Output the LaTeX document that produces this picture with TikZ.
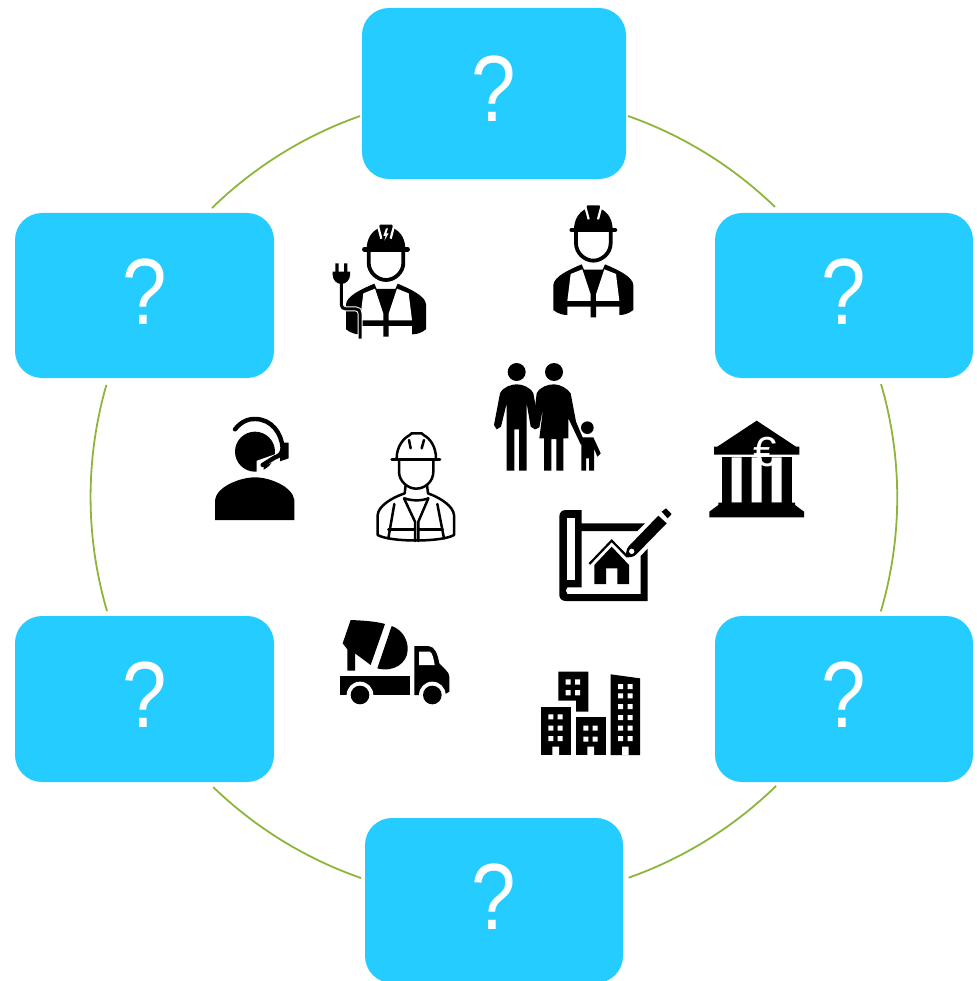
\documentclass[tikz,border=0pt]{standalone}
\usepackage{fontspec}
\setmainfont{Liberation Sans}
\definecolor{boxblue}{HTML}{24CCFF}
\definecolor{ringgreen}{HTML}{8DB53A}
\newcommand{\qmark}{\raisebox{-28.5pt}[0pt][0pt]{\scalebox{0.85}[1]{?}}}
\tikzset{
  qbox/.style={fill=boxblue,text=white,rounded corners=27pt,inner sep=0pt,font=\fontsize{94}{94}\selectfont},
  ring/.style={draw=ringgreen,line width=1.8pt},
  zoomed/.style={x=0.33333pt,y=-0.33333pt},
  ink/.style={fill=black,draw=none},
  gap/.style={fill=white,draw=none},
  outl/.style={draw=black,line width=2.5pt,line join=round,line cap=round}
}
\newcommand{\workerfig}{%
  \fill[ink] (762,90) .. controls (762,60) and (775,38) .. (797,27) -- (802,16) -- (838,16) -- (843,27) .. controls (865,38) and (878,60) .. (878,90) -- cycle;
  \draw[black,line width=4.5pt,line cap=round] (755,90) -- (885,90);
  \draw[white,line width=2.2pt] (796,20) -- (806,58) (844,20) -- (834,58);
  \draw[black,line width=3.8pt] (768,95) -- (768,130) .. controls (768,160) and (795,182) .. (820,182) .. controls (845,182) and (872,160) .. (872,130) -- (872,95);
  \fill[ink] (700,330) -- (700,255) .. controls (702,230) and (745,210) .. (785,193) -- (792,209) -- (848,209) -- (855,193) .. controls (895,210) and (938,230) .. (940,255) -- (940,330) .. controls (925,342) and (910,345) .. (898,345) -- (898,320) -- (828,320) -- (828,352) -- (812,352) -- (812,320) -- (742,320) -- (742,345) .. controls (730,345) and (715,342) .. (700,330) -- cycle;
  \fill[gap] (752,222) -- (787,208) -- (812,283) -- (812,303) -- (742,303) -- cycle;
  \fill[gap] (888,222) -- (853,208) -- (828,283) -- (828,303) -- (898,303) -- cycle;
}
\begin{document}
\begin{tikzpicture}[x=1pt,y=-1pt]
\useasboundingbox (0,0) rectangle (976,981);
% ring segments
\coordinate (ra) at (628,116);
\coordinate (rb) at (881,384);
\coordinate (rc) at (776,786);
\coordinate (rd) at (361,878);
\coordinate (re) at (107,611);
\coordinate (rf) at (212,208);
\draw[ring] (ra) arc[start angle=-70.6,end angle=-45.9,radius=404];
\draw[ring] (rb) arc[start angle=-16.3,end angle=16.4,radius=404];
\draw[ring] (rc) arc[start angle=45.7,end angle=70.5,radius=404];
\draw[ring] (rd) arc[start angle=109.2,end angle=134,radius=404];
\draw[ring] (re) arc[start angle=163.6,end angle=196.1,radius=404];
\draw[ring] (rf) arc[start angle=225.7,end angle=250.6,radius=404];
% boxes
\node[qbox,minimum width=264pt,minimum height=171pt] (top) at (494,93.5) {\qmark};
\node[qbox,minimum width=259pt,minimum height=165pt] (tl) at (144.5,295.5) {\qmark};
\node[qbox,minimum width=258pt,minimum height=165pt] (tr) at (844,295.5) {\qmark};
\node[qbox,minimum width=259pt,minimum height=166pt] (bl) at (144.5,699) {\qmark};
\node[qbox,minimum width=258pt,minimum height=166pt] (br) at (844,699) {\qmark};
\node[qbox,minimum width=258pt,minimum height=165pt] (bot) at (494,900.5) {\qmark};
% hard-hat worker, right
\begin{scope}[shift={(320,200)},zoomed]
  \workerfig
\end{scope}
% electrician
\begin{scope}[shift={(112.67,219.33)},zoomed]
  \workerfig
  \fill[gap] (820,27) -- (812,50) -- (819,50) -- (815,64) -- (828,42) -- (821,42) -- (826,27) -- cycle;
  \draw[white,line width=5pt,line join=round] (686,190) -- (686,257) .. controls (686,264) and (692,269) .. (700,269) -- (730,269) .. controls (738,269) and (742,274) .. (742,282) -- (742,362);
  \draw[black,line width=3pt,line join=round] (686,190) -- (686,257) .. controls (686,264) and (692,269) .. (700,269) -- (730,269) .. controls (738,269) and (742,274) .. (742,282) -- (742,358);
  \fill[ink] (660,157) -- (712,157) -- (712,167) .. controls (712,182) and (700,194) .. (686,194) .. controls (672,194) and (660,182) .. (660,167) -- cycle;
  \fill[ink] (668,132) rectangle (678,158) (694,132) rectangle (704,158);
\end{scope}
% headset person, outlined worker
\begin{scope}[shift={(200,350)},zoomed]
  \fill[ink] (165,305) circle[radius=60];
  \fill[ink] (45,510) -- (45,450) .. controls (50,410) and (120,382) .. (165,382) .. controls (210,382) and (278,410) .. (283,450) -- (283,510) -- cycle;
  \draw[white,line width=7pt] (248,300) .. controls (244,315) and (238,320) .. (225,324) -- (180,340) -- (180,372);
  \fill[ink] (248,278) -- (266,278) -- (266,325) -- (240,334) -- (240,300) -- cycle;
  \draw[black,line width=4.4pt,line cap=round] (105,238) .. controls (125,212) and (150,206) .. (165,207) .. controls (215,207) and (245,250) .. (248,295) .. controls (246,312) and (238,318) .. (225,322) -- (188,345);
  \begin{scope}[outl]
    \draw (575,328) -- (720,328);
    \draw (590,325) .. controls (590,290) and (610,265) .. (628,256) -- (635,250) -- (665,250) -- (672,256) .. controls (690,265) and (708,290) .. (708,325);
    \draw (627,270) -- (632,295) (672,270) -- (665,295);
    \draw (597,330) -- (597,365) .. controls (597,395) and (625,416) .. (648,416) .. controls (675,416) and (700,395) .. (700,365) -- (700,330);
    \draw (617,405) -- (614,430) (681,405) -- (684,430);
    \draw (614,445) .. controls (635,453) and (665,453) .. (685,445);
    \draw (614,430) .. controls (570,445) and (535,470) .. (533,495) -- (533,555) .. controls (570,577) and (725,577) .. (762,555) -- (762,495) .. controls (760,470) and (725,445) .. (684,430);
    \draw (583,462) -- (565,565) (712,462) -- (732,565);
    \draw (612,445) -- (645,515) -- (645,573) (685,445) -- (655,515) -- (655,573);
    \draw (565,538) -- (645,538) (655,538) -- (728,538);
  \end{scope}
\end{scope}
% family, bank, blueprint
\begin{scope}[shift={(480,350)},zoomed]
  \fill[ink] (110,66) circle[radius=27] (222,66) circle[radius=27] (322,233) circle[radius=19];
  \fill[ink] (60,130) .. controls (70,110) and (95,103) .. (110,103) .. controls (125,103) and (150,110) .. (160,130) -- (178,228) -- (165,238) -- (152,230) -- (140,160) -- (140,362) -- (117,362) -- (117,238) -- (103,238) -- (103,362) -- (80,362) -- (80,160) -- (63,230) -- (50,238) -- (42,225) -- cycle;
  \fill[ink] (170,130) .. controls (180,110) and (205,103) .. (222,103) .. controls (240,103) and (262,115) .. (272,130) -- (288,215) -- (312,272) -- (303,285) -- (265,205) -- (265,265) -- (250,265) -- (250,362) -- (229,362) -- (229,267) -- (214,267) -- (214,362) -- (192,362) -- (192,265) -- (178,265) -- (190,170) -- (178,232) -- (165,238) -- (158,230) -- cycle;
  \fill[ink] (303,262) -- (340,262) -- (362,310) -- (352,320) -- (342,295) -- (342,362) -- (327,362) -- (327,325) -- (318,325) -- (318,362) -- (304,362) -- (304,285) -- cycle;
  % bank
  \fill[ink] (830,212) -- (948,290) -- (958,290) -- (958,314) -- (702,314) -- (702,290) -- (712,290) -- cycle;
  \fill[ink] (725,320) rectangle (935,470);
  \fill[gap] (755,322) rectangle (785,458) (815,322) rectangle (845,458) (875,322) rectangle (905,458);
  \fill[ink] (715,458) -- (945,458) -- (945,465) -- (972,485) -- (972,502) -- (688,502) -- (688,485) -- (715,465) -- cycle;
  \node[text=white,font=\fontsize{42}{42}\selectfont,inner sep=0pt] (euro) at (856,305) {€};
  % blueprint
  \fill[ink] (305,480) -- (305,520) -- (495,520) -- (472,543) -- (305,543) -- (305,712) -- (262,712) .. controls (256,718) and (256,726) .. (262,732) -- (482,732) -- (482,618) -- (503,596) -- (503,753) -- (258,753) .. controls (245,753) and (238,745) .. (238,735) -- (238,500) .. controls (238,488) and (245,480) .. (258,480) -- cycle;
  \fill[gap] (262,505) -- (285,505) -- (285,690) -- (262,690) -- cycle;
  \draw[black,line width=2.2pt] (328,642) -- (395,572) -- (440,618);
  \fill[ink] (395,590) -- (447,645) -- (447,702) -- (412,702) -- (412,655) -- (378,655) -- (378,702) -- (343,702) -- (343,645) -- cycle;
  \fill[ink] (445,590) -- (535,497) -- (560,520) -- (470,612) .. controls (462,622) and (448,622) .. (438,622) .. controls (438,610) and (438,600) .. (445,590) -- cycle;
  \fill[gap] (455,604) circle[radius=8];
  \fill[ink] (545,485) -- (558,475) -- (575,492) -- (563,505) -- cycle;
\end{scope}
% truck, buildings
\begin{scope}[shift={(330,610)},zoomed]
  \fill[ink] (62,30) .. controls (110,32) and (140,35) .. (165,42) -- (122,165) -- (75,130) -- (75,182) -- (52,182) -- (52,118) -- (38,100) -- cycle;
  \fill[ink] (185,48) .. controls (220,60) and (235,95) .. (233,120) .. controls (232,160) and (190,188) .. (142,175) -- cycle;
  \fill[ink] (30,197) rectangle (240,255);
  \fill[ink] (253,108) -- (295,108) .. controls (315,110) and (322,130) .. (328,160) .. controls (340,175) and (358,185) .. (358,200) -- (358,245) -- (340,255) -- (253,255) -- cycle;
  \fill[gap] (267,125) -- (300,125) .. controls (308,130) and (312,150) .. (314,165) -- (267,165) -- cycle;
  \fill[gap] (90,255) circle[radius=40] (307,255) circle[radius=40];
  \fill[ink] (90,255) circle[radius=28] (307,255) circle[radius=28];
  % buildings
  \fill[ink] (685,185) -- (775,185) -- (775,305) -- (738,305) -- (738,272) -- (685,272) -- cycle;
  \fill[ink] (632,290) rectangle (722,435);
  \fill[ink] (738,322) rectangle (827,435);
  \fill[ink] (842,193) -- (930,205) -- (930,435) -- (842,435) -- cycle;
  \fill[gap] (707,208) rectangle (722,224) (735,208) rectangle (750,224) (707,240) rectangle (722,256) (735,240) rectangle (750,256);
  \foreach \yy in {313,347,378} {\fill[gap] (655,\yy) rectangle ++(15,15) (683,\yy) rectangle ++(15,15);}
  \foreach \yy in {347,380} {\fill[gap] (760,\yy) rectangle ++(15,15) (788,\yy) rectangle ++(15,15);}
  \foreach \yy in {222,250,282,315,347,378} {\fill[gap] (864,\yy) rectangle ++(15,15) (893,\yy) rectangle ++(15,15);}
  \fill[gap] (667,410) rectangle (687,436) (772,410) rectangle (792,436) (876,410) rectangle (896,436);
\end{scope}
\end{tikzpicture}
\end{document}
